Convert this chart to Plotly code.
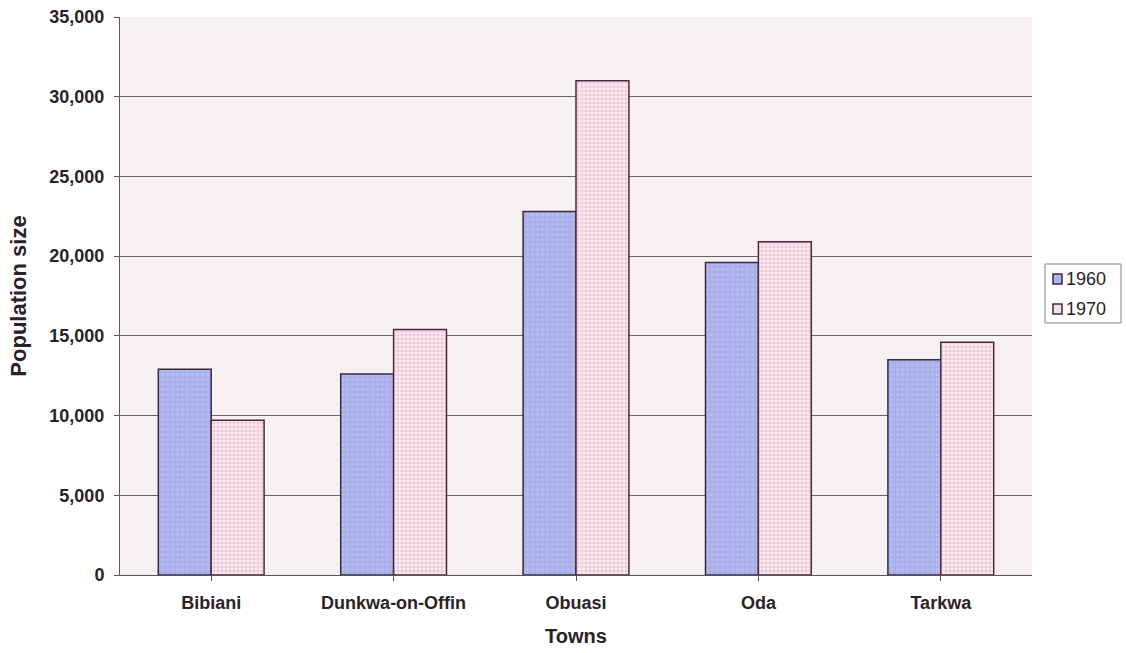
import plotly.graph_objects as go

towns = ["Bibiani", "Dunkwa-on-Offin", "Obuasi", "Oda", "Tarkwa"]
pop_1960 = [12900, 12600, 22800, 19600, 13500]
pop_1970 = [9700, 15400, 31000, 20900, 14600]
y_ticks = [0, 5000, 10000, 15000, 20000, 25000, 30000, 35000]
y_tick_text = ["0", "5,000", "10,000", "15,000", "20,000", "25,000", "30,000", "35,000"]

font_family = "Liberation Sans, Arial, sans-serif"
W, H = 1126, 653
L, R, T, B = 120, 94, 17, 78
plot_w, plot_h = W - L - R, H - T - B


def px_x(px):
    return (px - L) / plot_w


def px_y(py):
    return (H - B - py) / plot_h


style_1960 = dict(color="#b0b6ee", line=dict(color="#3a2a3a", width=1.5),
                  pattern=dict(shape=".", fgcolor="#c6cbf5", bgcolor="#a9b0ec", size=5, solidity=0.3))
style_1970 = dict(color="#f4d3e0", line=dict(color="#4a2a3a", width=1.5),
                  pattern=dict(shape="+", fgcolor="#db85aa", bgcolor="#fbf0f4", size=4, solidity=0.4))

fig = go.Figure()
fig.add_trace(go.Bar(x=towns, y=pop_1960, name="1960", marker=style_1960))
fig.add_trace(go.Bar(x=towns, y=pop_1970, name="1970", marker=style_1970))

# Legend box drawn by hand so it stays compact beside the plot
shapes = [
    dict(type="rect", xref="paper", yref="paper",
         x0=px_x(1045), x1=px_x(1121), y0=px_y(323), y1=px_y(264),
         line=dict(color="#8a8488", width=1), fillcolor="#ffffff", layer="above"),
]
annotations = []
for label, fill, cy in [("1960", "#aeb4ee", 279), ("1970", "#f7e0ea", 309)]:
    shapes.append(dict(type="rect", xref="paper", yref="paper",
                       x0=px_x(1053), x1=px_x(1062), y0=px_y(cy + 5), y1=px_y(cy - 5),
                       line=dict(color="#3a2a3a", width=1.5), fillcolor=fill, layer="above"))
    annotations.append(dict(text=label, xref="paper", yref="paper",
                            x=px_x(1064), y=px_y(cy), xanchor="left", yanchor="middle",
                            showarrow=False, font=dict(size=18, color="#2a2226")))

fig.update_layout(
    width=W, height=H,
    margin=dict(l=L, r=R, t=T, b=B, autoexpand=False),
    paper_bgcolor="#ffffff",
    plot_bgcolor="#f7f1f4",
    barmode="group",
    bargap=0.42,
    bargroupgap=0,
    font=dict(family=font_family, size=15, color="#2a2226"),
    showlegend=False,
    shapes=shapes,
    annotations=annotations,
    xaxis=dict(
        title=dict(text="<b>Towns</b>", font=dict(size=20), standoff=17),
        tickfont=dict(size=18),
        tickprefix="<b>", ticksuffix="</b>",
        ticklabelstandoff=6,
        showline=True, linecolor="#5a5458", linewidth=1,
        ticks="outside", ticklen=5, tickcolor="#5a5458",
        showgrid=False,
    ),
    yaxis=dict(
        title=dict(text="<b>Population size</b>", font=dict(size=22), standoff=16),
        range=[0, 35000],
        tickvals=y_ticks, ticktext=["<b>%s</b>" % t for t in y_tick_text],
        tickfont=dict(size=18),
        ticklabelstandoff=6,
        showline=True, linecolor="#5a5458", linewidth=1,
        ticks="outside", ticklen=5, tickcolor="#5a5458",
        showgrid=True, gridcolor="#6a6266", gridwidth=1,
        zeroline=False,
    ),
)

fig.write_html("out.html")
